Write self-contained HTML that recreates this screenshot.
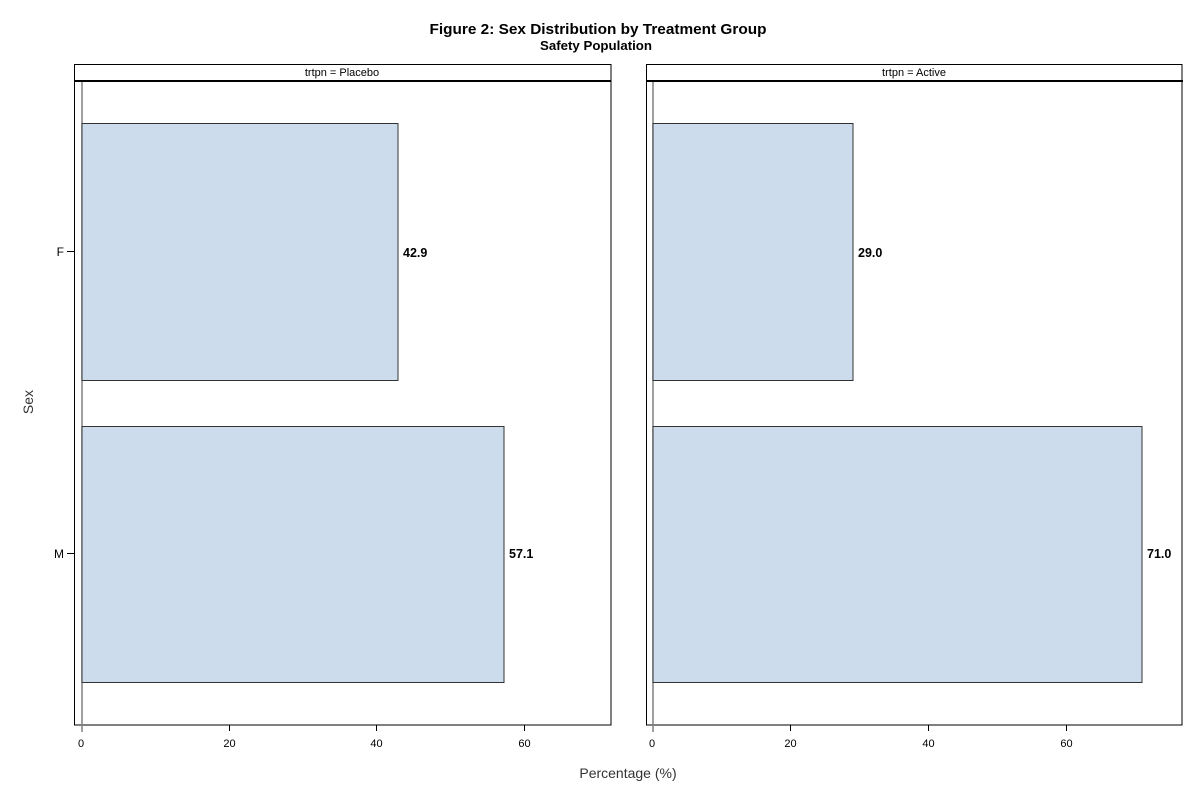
<!DOCTYPE html>
<html><head><meta charset="utf-8"><style>
html,body{margin:0;padding:0;background:#fff;}
svg{display:block;}
text{font-family:"Liberation Sans",Arial,sans-serif;}
</style></head><body>
<svg width="1200" height="800" viewBox="0 0 1200 800" xmlns="http://www.w3.org/2000/svg">
<rect width="1200" height="800" fill="#fff"/>
<!-- Titles -->
<text x="598" y="34" font-size="15" font-weight="bold" text-anchor="middle" textLength="337" lengthAdjust="spacingAndGlyphs">Figure 2: Sex Distribution by Treatment Group</text>
<text x="596" y="50" font-size="13" font-weight="bold" text-anchor="middle" textLength="112" lengthAdjust="spacingAndGlyphs">Safety Population</text>

<!-- LEFT PANEL -->
<rect x="74.5" y="64.5" width="536.5" height="660.5" fill="none" stroke="#000" stroke-width="1"/>
<rect x="74" y="80" width="537" height="2" fill="#000"/>
<text x="342" y="76" font-size="11" text-anchor="middle">trtpn = Placebo</text>
<line x1="82" y1="82" x2="82" y2="732" stroke="#808080" stroke-width="1.5"/>
<rect x="82" y="123.5" width="316" height="257" fill="#CDDCEC" stroke="#333" stroke-width="1"/>
<rect x="82" y="426.5" width="422" height="256" fill="#CDDCEC" stroke="#333" stroke-width="1"/>
<text x="403" y="257" font-size="12.5" font-weight="bold">42.9</text>
<text x="509" y="558" font-size="12.5" font-weight="bold">57.1</text>
<!-- y ticks -->
<line x1="67" y1="251.5" x2="74" y2="251.5" stroke="#000" stroke-width="1"/>
<line x1="67" y1="553.5" x2="74" y2="553.5" stroke="#000" stroke-width="1"/>
<text x="64" y="256" font-size="12" text-anchor="end">F</text>
<text x="64" y="558" font-size="12" text-anchor="end">M</text>
<!-- x ticks -->
<line x1="229.5" y1="725" x2="229.5" y2="731" stroke="#000"/>
<line x1="376.5" y1="725" x2="376.5" y2="731" stroke="#000"/>
<line x1="524.5" y1="725" x2="524.5" y2="731" stroke="#000"/>
<text x="81" y="747" font-size="11" text-anchor="middle">0</text>
<text x="229.5" y="747" font-size="11" text-anchor="middle">20</text>
<text x="376.5" y="747" font-size="11" text-anchor="middle">40</text>
<text x="524.5" y="747" font-size="11" text-anchor="middle">60</text>

<!-- RIGHT PANEL -->
<rect x="646.5" y="64.5" width="535.5" height="660.5" fill="none" stroke="#000" stroke-width="1"/>
<rect x="646" y="80" width="537" height="2" fill="#000"/>
<text x="914" y="76" font-size="11" text-anchor="middle">trtpn = Active</text>
<line x1="653" y1="82" x2="653" y2="732" stroke="#808080" stroke-width="1.5"/>
<rect x="653" y="123.5" width="200" height="257" fill="#CDDCEC" stroke="#333" stroke-width="1"/>
<rect x="653" y="426.5" width="489" height="256" fill="#CDDCEC" stroke="#333" stroke-width="1"/>
<text x="858" y="257" font-size="12.5" font-weight="bold">29.0</text>
<text x="1147" y="558" font-size="12.5" font-weight="bold">71.0</text>
<line x1="790.5" y1="725" x2="790.5" y2="731" stroke="#000"/>
<line x1="928.5" y1="725" x2="928.5" y2="731" stroke="#000"/>
<line x1="1066.5" y1="725" x2="1066.5" y2="731" stroke="#000"/>
<text x="652" y="747" font-size="11" text-anchor="middle">0</text>
<text x="790.5" y="747" font-size="11" text-anchor="middle">20</text>
<text x="928.5" y="747" font-size="11" text-anchor="middle">40</text>
<text x="1066.5" y="747" font-size="11" text-anchor="middle">60</text>

<!-- axis labels -->
<text x="628" y="778" font-size="14" text-anchor="middle" fill="#333">Percentage (%)</text>
<text transform="translate(33,402) rotate(-90)" font-size="14" text-anchor="middle" fill="#333">Sex</text>
</svg>
</body></html>
